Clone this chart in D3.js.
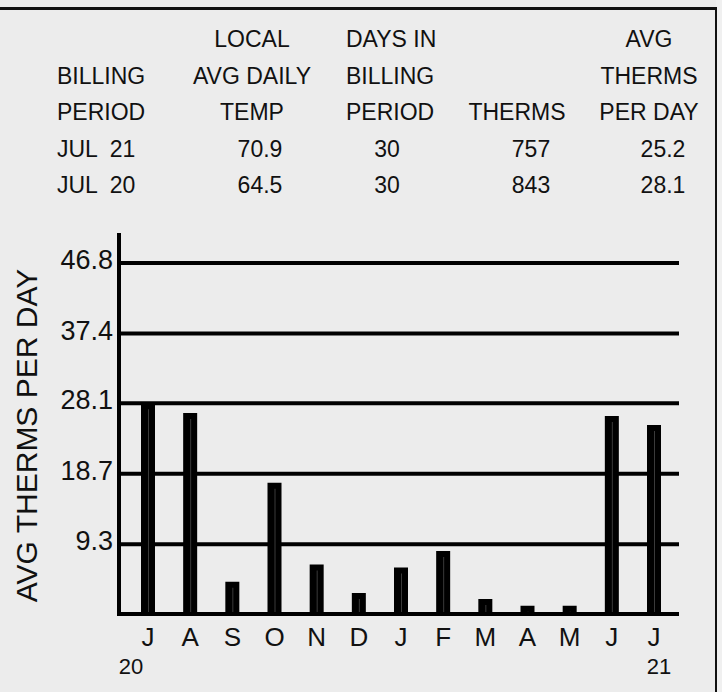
<!DOCTYPE html>
<html>
<head>
<meta charset="utf-8">
<script src="https://cdn.jsdelivr.net/npm/d3@7"></script>
<style>
  body { margin: 0; background: #ececec; }
  svg { display: block; font-family: "Liberation Sans", Arial, sans-serif; }
</style>
</head>
<body>
<svg id="chart"></svg>
<script>
var width = 722,
    height = 692;

// billing months, Jul 20 .. Jul 21
var months = ["J", "A", "S", "O", "N", "D", "J", "F", "M", "A", "M", "J", "J"];
var avgTherms = [28.1, 26.8, 4.3, 17.5, 6.6, 2.8, 6.2, 8.4, 2.0, 1.1, 1.1, 26.4, 25.2];
var yTicks = [9.3, 18.7, 28.1, 37.4, 46.8];
var yearLabels = ["20", "21"];

// summary table
var headers = [
    ["", "BILLING", "PERIOD"],
    ["LOCAL", "AVG DAILY", "TEMP"],
    ["DAYS IN", "BILLING", "PERIOD"],
    ["", "", "THERMS"],
    ["AVG", "THERMS", "PER DAY"]
];
var periods = ["JUL  21", "JUL  20"];
var temps = ["70.9", "64.5"];
var days = ["30", "30"];
var therms = ["757", "843"];
var perDay = ["25.2", "28.1"];

var svg = d3.select("#chart")
    .attr("width", width)
    .attr("height", height);

// frame
svg.append("rect")
    .attr("x", 716).attr("y", 0)
    .attr("width", 6).attr("height", height)
    .attr("fill", "#f0f0f0");
svg.append("line")
    .attr("x1", 0).attr("x2", 717)
    .attr("y1", 8.5).attr("y2", 8.5)
    .attr("stroke", "#111").attr("stroke-width", 3);
svg.append("line")
    .attr("x1", 716).attr("x2", 716)
    .attr("y1", 8).attr("y2", height)
    .attr("stroke", "#111").attr("stroke-width", 2);

// table
var colHead = [
    { x: 57, anchor: "start" },
    { x: 252, anchor: "middle" },
    { x: 346, anchor: "start" },
    { x: 517, anchor: "middle" },
    { x: 649, anchor: "middle" }
];
var colVal = [
    { x: 57, anchor: "start", vals: periods },
    { x: 260, anchor: "middle", vals: temps },
    { x: 387, anchor: "middle", vals: days },
    { x: 531, anchor: "middle", vals: therms },
    { x: 663, anchor: "middle", vals: perDay }
];
var rowY = d3.scaleLinear().domain([0, 1]).range([47, 83.5]);

var table = svg.append("g")
    .attr("class", "table")
    .style("font-size", "23px")
    .attr("fill", "#111");

headers.forEach(function(lines, c) {
    lines.forEach(function(t, r) {
        if (!t) return;
        table.append("text")
            .attr("x", colHead[c].x)
            .attr("y", rowY(r))
            .attr("text-anchor", colHead[c].anchor)
            .text(t);
    });
});

colVal.forEach(function(col) {
    col.vals.forEach(function(t, r) {
        table.append("text")
            .attr("x", col.x)
            .attr("y", rowY(r + 3))
            .attr("text-anchor", col.anchor)
            .style("white-space", "pre")
            .text(t);
    });
});

// chart
var x = d3.scalePoint()
    .domain(d3.range(months.length))
    .range([148, 654]);

var y = d3.scaleLinear()
    .domain([0, 46.8])
    .range([614, 263]);

var left = 119, right = 679;

var grid = svg.append("g").attr("class", "grid");
grid.selectAll("line")
    .data([0].concat(yTicks))
    .enter().append("line")
    .attr("x1", left)
    .attr("x2", right)
    .attr("y1", function(d) { return y(d); })
    .attr("y2", function(d) { return y(d); })
    .attr("stroke", "#000")
    .attr("stroke-width", 4);

svg.append("line")
    .attr("x1", left).attr("x2", left)
    .attr("y1", 233).attr("y2", y(0) + 2)
    .attr("stroke", "#000")
    .attr("stroke-width", 4);

svg.append("g")
    .attr("class", "ytick")
    .style("font-size", "27px")
    .selectAll("text")
    .data(yTicks)
    .enter().append("text")
    .attr("x", 113)
    .attr("y", function(d) { return y(d) + 6; })
    .attr("text-anchor", "end")
    .attr("fill", "#111")
    .text(function(d) { return d3.format(".1f")(d); });

var bw = 14;
var bars = svg.append("g").attr("class", "bars");
bars.selectAll("rect")
    .data(avgTherms)
    .enter().append("rect")
    .attr("x", function(d, i) { return x(i) - bw / 2; })
    .attr("y", function(d) { return y(d); })
    .attr("width", bw)
    .attr("height", function(d) { return y(0) - y(d); })
    .attr("fill", "#000");

bars.selectAll("line")
    .data(avgTherms)
    .enter().append("line")
    .attr("x1", function(d, i) { return x(i) + 0.5; })
    .attr("x2", function(d, i) { return x(i) + 0.5; })
    .attr("y1", function(d) { return y(d) + 6; })
    .attr("y2", y(0) - 2)
    .attr("stroke", "#3a3a3a")
    .attr("stroke-width", 1);

svg.append("g")
    .attr("class", "xlabels")
    .style("font-size", "26px")
    .selectAll("text")
    .data(months)
    .enter().append("text")
    .attr("x", function(d, i) { return x(i); })
    .attr("y", 646)
    .attr("text-anchor", "middle")
    .attr("fill", "#111")
    .text(function(d) { return d; });

svg.append("g")
    .attr("class", "years")
    .style("font-size", "22px")
    .selectAll("text")
    .data(yearLabels)
    .enter().append("text")
    .attr("x", function(d, i) { return i === 0 ? x(0) - 17 : x(months.length - 1) + 5; })
    .attr("y", 674)
    .attr("text-anchor", "middle")
    .attr("fill", "#111")
    .text(function(d) { return d; });

svg.append("text")
    .attr("transform", "translate(37," + ((y(0) + 263) / 2 - 3) + ") rotate(-90)")
    .attr("text-anchor", "middle")
    .style("font-size", "30px")
    .attr("fill", "#111")
    .text("AVG THERMS PER DAY");
</script>
</body>
</html>
